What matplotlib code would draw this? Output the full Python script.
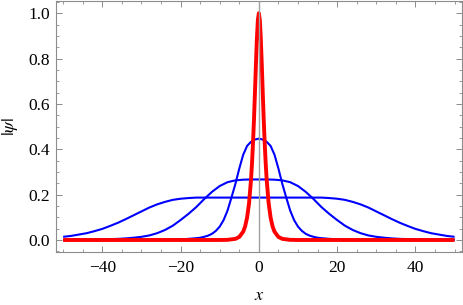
import matplotlib
matplotlib.use("Agg")
import matplotlib.pyplot as plt
from matplotlib.ticker import MultipleLocator, FuncFormatter

# ---- data ----
red_x = [-50, -10, -8, -6, -5, -4, -3.5, -3, -2.5, -2, -1.75, -1.5, -1.25, -1, -0.75, -0.5, -0.25,
         0, 0.25, 0.5, 0.75, 1, 1.25, 1.5, 1.75, 2, 2.5, 3, 3.5, 4, 5, 6, 8, 10, 50]
red_y = [0.0, 0.0001, 0.0007, 0.005, 0.0135, 0.0366, 0.0603, 0.0993, 0.163, 0.266, 0.338, 0.425, 0.528,
         0.648, 0.772, 0.887, 0.970,
         1.0, 0.970, 0.887, 0.772, 0.648, 0.528, 0.425, 0.338, 0.266, 0.163, 0.0993, 0.0603, 0.0366,
         0.0135, 0.005, 0.0007, 0.0001, 0.0]

b1_x = [-50, -30, -25, -20, -18, -16, -15, -14, -13, -12, -11, -10, -9, -8, -7, -6, -5, -4, -3, -2, -1,
        0, 1, 2, 3, 4, 5, 6, 7, 8, 9, 10, 11, 12, 13, 14, 15, 16, 18, 20, 25, 30, 50]
b1_y = [0.0, 0.0, 0.001, 0.003, 0.005, 0.008, 0.010, 0.014, 0.019, 0.027, 0.040, 0.059, 0.088, 0.130,
        0.187, 0.247, 0.315, 0.376, 0.415, 0.433, 0.443,
        0.447, 0.443, 0.433, 0.415, 0.376, 0.315, 0.247, 0.187, 0.130, 0.088, 0.059, 0.040, 0.027,
        0.019, 0.014, 0.010, 0.008, 0.005, 0.003, 0.001, 0.0, 0.0]

b2_x = [-50, -44, -40, -36, -34, -32, -30, -28, -26, -24, -22, -20, -18, -16, -14, -12, -10, -8, -6,
        -4, -2, 0, 2, 4, 6, 8, 10, 12, 14, 16, 18, 20, 22, 24, 26, 28, 30, 32, 34, 36, 40, 44, 50]
b2_y = [0.001, 0.002, 0.003, 0.005, 0.007, 0.010, 0.014, 0.020, 0.030, 0.044, 0.063, 0.088, 0.115,
        0.145, 0.180, 0.212, 0.238, 0.255, 0.263, 0.266, 0.267, 0.267, 0.267, 0.266, 0.263, 0.255,
        0.238, 0.212, 0.180, 0.145, 0.115, 0.088, 0.063, 0.044, 0.030, 0.020, 0.014, 0.010, 0.007,
        0.005, 0.003, 0.002, 0.001]

b3_x = [-50, -48, -46, -44, -42, -40, -38, -36, -34, -32, -30, -28, -26, -24, -22, -20, -18, -16,
        0, 16, 18, 20, 22, 24, 26, 28, 30, 32, 34, 36, 38, 40, 42, 44, 46, 48, 50]
b3_y = [0.014, 0.018, 0.024, 0.030, 0.039, 0.049, 0.062, 0.076, 0.092, 0.109, 0.126, 0.143, 0.157,
        0.168, 0.177, 0.182, 0.185, 0.187,
        0.187, 0.187, 0.185, 0.182, 0.177, 0.168, 0.157, 0.143, 0.126, 0.109, 0.092, 0.076, 0.062,
        0.049, 0.039, 0.030, 0.024, 0.018, 0.014]

x_ticks = [-40, -20, 0, 20, 40]
y_ticks = [0.0, 0.2, 0.4, 0.6, 0.8, 1.0]

# ---- figure ----
plt.rcParams['font.family'] = ['Liberation Serif', 'DejaVu Serif']
plt.rcParams['mathtext.fontset'] = 'stix'

fig = plt.figure(figsize=(4.63, 3.05), dpi=100)
ax = fig.add_axes([55.7 / 463, 1 - 251.7 / 305, (462 - 55.7) / 463, (251.7 - 1) / 305])

frame_col = '#8c8c8c'
for b3 in [(b3_x, b3_y), (b2_x, b2_y), (b1_x, b1_y)]:
    ax.plot(b3[0], b3[1], color='#0000ff', lw=1.5, solid_capstyle='butt', zorder=3)
ax.plot(red_x, red_y, color='#ff0000', lw=2.8, solid_capstyle='butt', zorder=4)
ax.axvline(0, color='#a0a0a0', lw=1.0, zorder=5)

ax.set_xlim(-51.9, 51.9)
ax.set_ylim(-0.0516, 1.054)

ax.set_xticks(x_ticks)
ax.set_yticks(y_ticks)
ax.xaxis.set_minor_locator(MultipleLocator(5))
ax.yaxis.set_minor_locator(MultipleLocator(0.05))
ax.xaxis.set_major_formatter(FuncFormatter(lambda v, p: ('\u2212' if v < 0 else '') + '%d' % abs(v)))
ax.yaxis.set_major_formatter(FuncFormatter(lambda v, p: '%.1f' % v))

for s in ax.spines.values():
    s.set_color(frame_col)
    s.set_linewidth(0.8)
ax.tick_params(which='both', direction='in', top=True, right=True, color=frame_col,
               labelsize=12.5, labelcolor='black')
ax.tick_params(which='major', length=4, width=0.7, pad=6)
ax.tick_params(which='minor', length=2.2, width=0.6)
ax.tick_params(axis='y', which='major', pad=4)

ax.set_xlabel('$x$', fontsize=13, labelpad=8)
ax.set_ylabel(r'$|\psi|$', fontsize=13, labelpad=6)

fig.savefig('out.png', dpi=100)
